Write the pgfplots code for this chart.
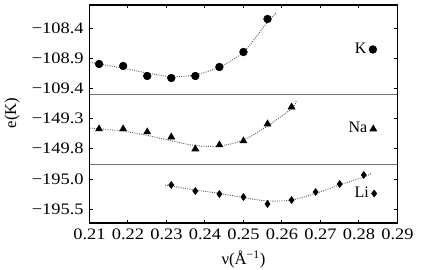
\documentclass[border=0pt]{standalone}
\usepackage{pgfplots}
\pgfplotsset{compat=1.18}
\usepackage{fontspec}
\setmainfont{Liberation Serif}
\newfontfamily\tickfont{Liberation Serif}[FakeStretch=1.15]
\begin{document}
\fontsize{12.5}{14}\selectfont
\begin{tikzpicture}
\path[use as bounding box] (-67.1pt,-35.25pt) rectangle (249.4pt,167.25pt);
\pgfplotsset{
  panel/.style={
    scale only axis, width=231pt,
    xmin=0.21, xmax=0.29,
    axis line style={draw=none},
    tick style={black, line width=0.7pt},
    major tick length=2.6pt,
    ytick pos=both,
    yticklabel pos=left,
    tick label style={font=\tickfont\fontsize{12}{14}\selectfont},
    xtick={0.21,0.22,0.23,0.24,0.25,0.26,0.27,0.28,0.29},
    clip=false,
    legend plot pos=right,
    legend style={draw=none, fill=none, at={(0.938,0.5)}, anchor=east, font=\fontsize{12}{14}\selectfont, inner sep=1pt},
  },
  fit/.style={black!65, densely dotted, line width=0.7pt, smooth, no marks, forget plot},
}
% Li panel (bottom)
\begin{axis}[panel, name=li, at={(0,0)}, anchor=south west,
  height=44.25pt, ymin=-195.733, ymax=-194.75,
  ytick={-195.5,-195.0}, yticklabels={−195.5,−195.0},
  xtick pos=left,
  xticklabels={0.21,0.22,0.23,0.24,0.25,0.26,0.27,0.28,0.29},
  xlabel={ν(Å\textsuperscript{−1})}]
\addplot[fit] coordinates {(0.2296,-195.1) (0.23125,-195.117) (0.2375,-195.183) (0.24375,-195.24) (0.25,-195.31) (0.25625,-195.365) (0.2625,-195.35) (0.26875,-195.24) (0.275,-195.1) (0.28125,-194.967) (0.2834,-194.9)};
\addplot[only marks, mark=diamond*, mark size=2.6pt, black] coordinates {
(0.23125,-195.1) (0.2375,-195.2) (0.24375,-195.25) (0.25,-195.3) (0.25625,-195.417)
(0.2625,-195.35) (0.26875,-195.217) (0.275,-195.083) (0.28125,-194.933)};
\addlegendentry{Li}
\end{axis}
% Na panel (middle)
\begin{axis}[panel, name=na, at={(0,44.25pt)}, anchor=south west,
  height=52.5pt, ymin=-150.067, ymax=-148.9,
  ytick={-149.8,-149.3}, yticklabels={−149.8,−149.3},
  xtick=\empty]
\addplot[fit] coordinates {(0.21,-149.467) (0.2125,-149.48) (0.21875,-149.52) (0.225,-149.59) (0.23125,-149.68) (0.2375,-149.76) (0.24375,-149.767) (0.25,-149.667) (0.25625,-149.433) (0.2627,-149.133) (0.2637,-149.0)};
\addplot[only marks, mark=triangle*, mark size=3pt, black] coordinates {
(0.2125,-149.483) (0.21875,-149.483) (0.225,-149.533) (0.23125,-149.617) (0.2375,-149.817)
(0.24375,-149.75) (0.25,-149.683) (0.25625,-149.4) (0.2625,-149.117)};
\addlegendentry{Na}
\end{axis}
% K panel (top)
\begin{axis}[panel, name=k, at={(0,96.75pt)}, anchor=south west,
  height=66.75pt, ymin=-109.5, ymax=-108.0167,
  ytick={-109.4,-108.9,-108.4}, yticklabels={−109.4,−108.9,−108.4},
  xtick pos=right, xticklabel={\mbox{}}]
\addplot[fit] coordinates {(0.21,-108.97) (0.2125,-109.0) (0.21875,-109.07) (0.225,-109.15) (0.23125,-109.21) (0.2375,-109.18) (0.24375,-109.05) (0.25,-108.8) (0.25625,-108.3) (0.2585,-108.15)};
\addplot[only marks, mark=*, mark size=2.9pt, black] coordinates {
(0.2125,-109.0) (0.21875,-109.033) (0.225,-109.2) (0.23125,-109.233) (0.2375,-109.2)
(0.24375,-109.05) (0.25,-108.8) (0.25625,-108.25)};
\addlegendentry{K}
\end{axis}
\draw[black!55, line width=0.7pt] (na.south west) -- (na.south east);
\draw[black!55, line width=0.7pt] (k.south west) -- (k.south east);
\draw[black, line width=1.1pt] (li.south west) rectangle (k.north east);
\node[rotate=90] at (-58pt,82.5pt) {e(K)};
\end{tikzpicture}
\end{document}
